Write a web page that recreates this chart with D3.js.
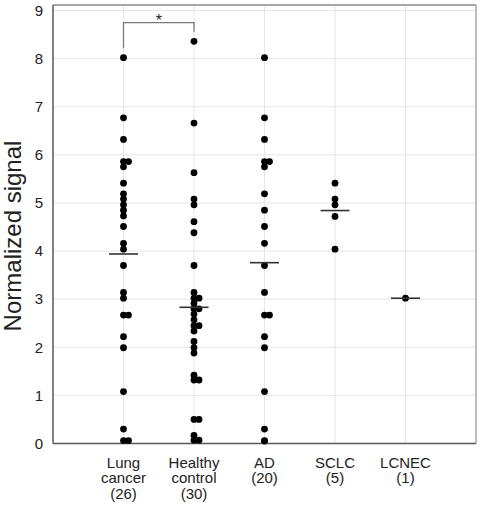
<!DOCTYPE html>
<html>
<head>
<meta charset="utf-8">
<script src="https://cdn.jsdelivr.net/npm/d3@7"></script>
<style>
  html, body { margin: 0; padding: 0; background: #fff; }
  svg { display: block; font-family: Arial, "Liberation Sans", sans-serif; }
</style>
</head>
<body>
<svg id="chart" width="483" height="509"></svg>
<script>
const categories = ["Lung cancer", "Healthy control", "AD", "SCLC", "LCNEC"];
const categoryLabels = [["Lung", "cancer", "(26)"], ["Healthy", "control", "(30)"], ["AD", "(20)"], ["SCLC", "(5)"], ["LCNEC", "(1)"]];
const lungCancer = [8.02, 6.77, 6.32, 5.86, 5.86, 5.75, 5.41, 5.19, 5.08, 4.96, 4.85, 4.73, 4.51, 4.16, 4.04, 3.70, 3.14, 3.02, 2.67, 2.67, 2.22, 1.99, 1.08, 0.30, 0.06, 0.06];
const healthyControl = [8.36, 6.66, 5.63, 5.08, 4.96, 4.61, 4.38, 3.70, 3.14, 3.02, 3.02, 2.91, 2.80, 2.80, 2.69, 2.57, 2.45, 2.45, 2.34, 2.12, 1.99, 1.88, 1.42, 1.32, 1.32, 0.50, 0.50, 0.17, 0.07, 0.07];
const ad = [8.02, 6.77, 6.32, 5.86, 5.86, 5.75, 5.19, 4.85, 4.51, 4.16, 3.70, 3.14, 2.67, 2.67, 2.22, 1.99, 1.08, 0.30, 0.06, 0.05];
const sclc = [5.41, 5.08, 4.96, 4.72, 4.04];
const lcnec = [3.02];
const yTicks = [0, 1, 2, 3, 4, 5, 6, 7, 8, 9];
const yTitle = "Normalized signal";
const significance = { from: "Lung cancer", to: "Healthy control", label: "*" };

const seriesValues = [lungCancer, healthyControl, ad, sclc, lcnec];

const svg = d3.select("#chart");
const pLeft = 53, pRight = 476, pTop = 5, pBottom = 443.5;

const x = d3.scalePoint().domain(categories).range([pLeft, pRight]).padding(1);
const y = d3.scaleLinear().domain([0, 9]).range([pBottom, 10.5]);

// gridlines
svg.append("g").selectAll("line").data(yTicks.filter(d => d > 0)).join("line")
  .attr("x1", pLeft).attr("x2", pRight)
  .attr("y1", d => y(d)).attr("y2", d => y(d))
  .attr("stroke", "#e6e6e6").attr("stroke-width", 1);
svg.append("g").selectAll("line").data(categories).join("line")
  .attr("x1", d => x(d)).attr("x2", d => x(d))
  .attr("y1", pTop).attr("y2", pBottom)
  .attr("stroke", "#e6e6e6").attr("stroke-width", 1);

// frame
svg.append("line").attr("x1", pLeft).attr("x2", pRight).attr("y1", pTop).attr("y2", pTop)
  .attr("stroke", "#a8a8a8").attr("stroke-width", 2);
svg.append("line").attr("x1", pRight).attr("x2", pRight).attr("y1", pTop).attr("y2", pBottom)
  .attr("stroke", "#a8a8a8").attr("stroke-width", 1.5);

// y axis
const yAxis = d3.axisLeft(y).tickValues(yTicks).tickSize(0).tickPadding(10).tickFormat(d3.format("d"));
const gy = svg.append("g").attr("transform", `translate(${pLeft},0)`).call(yAxis);
gy.select(".domain").attr("stroke", "#595959").attr("stroke-width", 1.5).attr("d", `M0,${pTop}V${pBottom}`);
gy.selectAll("text").attr("font-size", 15).attr("fill", "#222").attr("font-family", "Arial, 'Liberation Sans', sans-serif");

// x axis
const xAxis = d3.axisBottom(x).tickSize(0).tickFormat("");
const gx = svg.append("g").attr("transform", `translate(0,${pBottom})`).call(xAxis);
gx.select(".domain").attr("stroke", "#595959").attr("stroke-width", 1.5).attr("d", `M${pLeft},0H${pRight}`);

// x labels
categories.forEach((c, i) => {
  const t = svg.append("text").attr("text-anchor", "middle").attr("font-size", 15).attr("fill", "#222");
  categoryLabels[i].forEach((line, j) => {
    t.append("tspan").attr("x", x(c)).attr("y", 467.5 + j * 15.8).text(line);
  });
});

// y title
svg.append("text")
  .attr("transform", `translate(21,236) rotate(-90)`)
  .attr("text-anchor", "middle").attr("font-size", 24).attr("fill", "#222")
  .text(yTitle);

// points with simple offset for duplicates
const dotOffset = 5;
categories.forEach((c, i) => {
  const vals = seriesValues[i];
  const seen = new Map();
  const pts = vals.map(v => {
    const k = seen.get(v) || 0;
    seen.set(v, k + 1);
    return { v, k };
  });
  svg.append("g").selectAll("circle").data(pts).join("circle")
    .attr("cx", d => x(c) + d.k * dotOffset)
    .attr("cy", d => y(d.v))
    .attr("r", 3.4)
    .attr("fill", "#000");
  const m = d3.mean(vals);
  svg.append("line")
    .attr("x1", x(c) - 14.5).attr("x2", x(c) + 14.5)
    .attr("y1", y(m)).attr("y2", y(m))
    .attr("stroke", "#333").attr("stroke-width", 1.6);
});

// significance bracket
const xa = x(significance.from), xb = x(significance.to);
const ya = y(d3.max(lungCancer)) - 10, yb = y(d3.max(healthyControl)) - 9.5;
const yBr = 22.7;
svg.append("path")
  .attr("d", `M${xa},${ya}V${yBr}H${xb}V${yb}`)
  .attr("fill", "none").attr("stroke", "#7a7a7a").attr("stroke-width", 1.3);
svg.append("text").attr("x", (xa + xb) / 2).attr("y", 26).attr("text-anchor", "middle")
  .attr("font-size", 16).attr("fill", "#222").text(significance.label);
</script>
</body>
</html>
